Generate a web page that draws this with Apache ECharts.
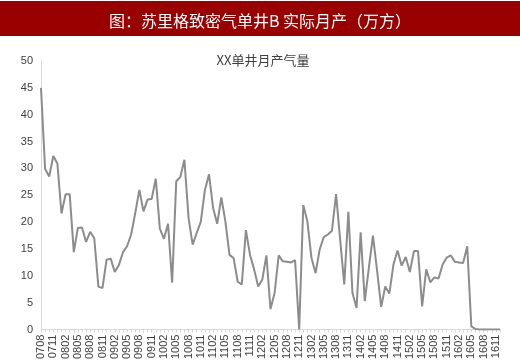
<!DOCTYPE html>
<html>
<head>
<meta charset="utf-8">
<script src="https://cdn.jsdelivr.net/npm/echarts@6/dist/echarts.min.js"></script>
<style>html,body{margin:0;padding:0;background:#fff;}#c{width:520px;height:362px;}</style>
</head>
<body>
<div id="c"></div>
<script>
const months = [
'0708','0709','0710','0711','0712',
'0801','0802','0803','0804','0805','0806','0807','0808','0809','0810','0811','0812',
'0901','0902','0903','0904','0905','0906','0907','0908','0909','0910','0911','0912',
'1001','1002','1003','1004','1005','1006','1007','1008','1009','1010','1011','1012',
'1101','1102','1103','1104','1105','1106','1107','1108','1109','1110','1111','1112',
'1201','1202','1203','1204','1205','1206','1207','1208','1209','1210','1211','1212',
'1301','1302','1303','1304','1305','1306','1307','1308','1309','1310','1311','1312',
'1401','1402','1403','1404','1405','1406','1407','1408','1409','1410','1411','1412',
'1501','1502','1503','1504','1505','1506','1507','1508','1509','1510','1511','1512',
'1601','1602','1603','1604','1605','1606','1607','1608','1609','1610','1611','1612'
];
const production = [
45,29.9,28.5,32.3,30.9,
21.6,25.2,25.2,14.4,18.9,19.0,16.3,18.2,17.0,8.0,7.7,13.0,
13.2,10.7,12.0,14.4,15.5,17.7,21.7,26.0,22.0,24.2,24.3,28.1,
18.8,16.9,19.7,8.7,27.6,28.4,31.6,20.8,15.8,18.0,20.1,26.0,
28.9,22.6,19.7,24.6,20.1,13.9,13.3,8.9,8.4,18.5,13.9,11.2,
8.0,9.3,13.8,3.8,6.8,13.8,12.7,12.6,12.5,12.9,0,23.2,
20.1,13.3,10.5,14.9,17.2,17.7,18.4,25.2,16.7,8.4,21.9,6.8,
4.0,18.1,5.3,11.5,17.5,11.0,4.2,8.0,6.7,12.1,14.7,11.9,
13.5,10.7,14.6,14.6,4.3,11.2,8.8,9.7,9.5,12.1,13.4,13.8,
12.6,12.5,12.4,15.5,0.6,0.1,0,0,0,0,0,0
];
const yTicks = [0,5,10,15,20,25,30,35,40,45,50];
const headerText = '图：苏里格致密气单井B 实际月产（万方）';
const subTitle = 'XX单井月产气量';

const chart = echarts.init(document.getElementById('c'), null, {renderer:'canvas'});
chart.setOption({
  animation: false,
  backgroundColor: '#ffffff',
  graphic: [{
    type: 'rect', left: 0, top: 1, z: 0,
    shape: {width: 520, height: 35},
    style: {fill: '#990000'}
  }],
  title: [{
    text: headerText, left: 'center', top: 8,
    textStyle: {color: '#ffffff', fontSize: 16, fontWeight: 'normal', fontFamily: 'Noto Sans CJK SC'}
  },{
    text: subTitle, left: 258, top: 49, textAlign: 'center',
    textStyle: {color: '#404040', fontSize: 13, fontWeight: 'normal', fontFamily: 'Noto Sans CJK SC'}
  }],
  grid: {left: 41, right: 20, top: 61, bottom: 32},
  xAxis: {
    type: 'category', data: months, boundaryGap: false,
    axisLine: {lineStyle: {color: '#d9d9d9'}},
    axisTick: {show: true, interval: 0, length: 3, lineStyle: {color: '#d9d9d9'}},
    axisLabel: {interval: 2, rotate: 90, color: '#404040', fontSize: 11, fontFamily: 'Liberation Sans', margin: 5}
  },
  yAxis: {
    type: 'value', min: yTicks[0], max: yTicks[yTicks.length-1], interval: 5,
    axisLine: {show: true, lineStyle: {color: '#d9d9d9'}},
    axisTick: {show: false},
    splitLine: {show: false},
    axisLabel: {color: '#404040', fontSize: 11, fontFamily: 'Liberation Sans', margin: 8}
  },
  series: [{
    type: 'line', data: production, symbol: 'none',
    lineStyle: {color: '#8c8c8c', width: 2}
  }]
});
</script>
</body>
</html>
